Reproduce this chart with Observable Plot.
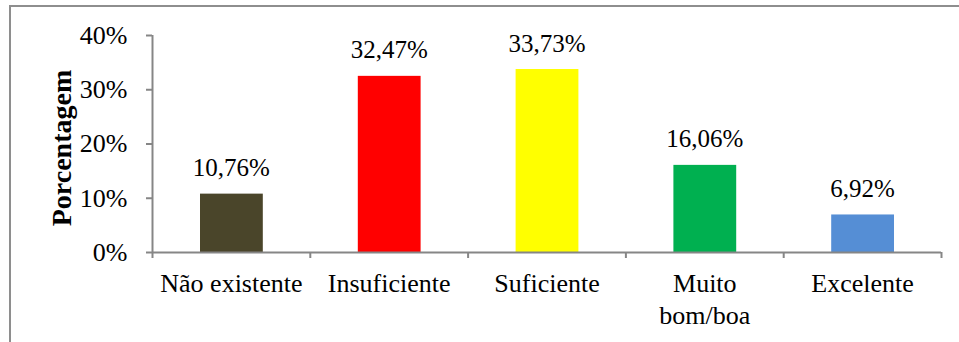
<!DOCTYPE html>
<html>
<head>
<meta charset="utf-8">
<script src="https://cdn.jsdelivr.net/npm/d3@7"></script>
<script src="https://cdn.jsdelivr.net/npm/@observablehq/plot@0.6"></script>
<style>
  html, body { margin: 0; padding: 0; background: #fff; overflow: hidden; }
  #wrap { position: relative; width: 959px; height: 342px; }
  #border { position: absolute; left: 9px; top: 5px; width: 1000px; height: 400px;
            border-left: 2px solid #8e8e8e; border-top: 2px solid #8e8e8e; box-sizing: border-box; }
  #chart { position: absolute; left: 0; top: 0; }
</style>
</head>
<body>
<div id="wrap"><div id="border"></div><div id="chart"></div></div>
<script>
const categories = ["Não existente", "Insuficiente", "Suficiente", "Muito\nbom/boa", "Excelente"];
const values = [10.76, 32.47, 33.73, 16.06, 6.92];
const colors = ["#4a452a", "#ff0000", "#ffff00", "#00b050", "#558ed5"];
const yTicks = [0, 10, 20, 30, 40];
const axisTitle = "Porcentagem";

const data = categories.map((c, i) => ({
  i, cat: c, value: values[i], color: colors[i],
  label: values[i].toFixed(2).replace(".", ",") + "%"
}));
const bounds = d3.range(categories.length + 1);

const font = "'Liberation Serif', 'Times New Roman', serif";
const gray = "#868686";

const chart = Plot.plot({
  width: 959,
  height: 342,
  marginLeft: 152,
  marginRight: 18,
  marginTop: 35,
  marginBottom: 90,
  style: { fontFamily: font, fontSize: "26px", color: "#000", background: "transparent" },
  x: { type: "linear", domain: [0, categories.length], axis: null },
  y: { domain: [0, 40], axis: null },
  marks: [
    Plot.rectY(data, { x1: "i", x2: d => d.i + 1, y: "value", fill: "color", insetLeft: 48, insetRight: 47 }),
    Plot.ruleX([0], { stroke: gray, strokeWidth: 2 }),
    Plot.axisY({ ticks: yTicks, tickFormat: d => d + "%", tickSize: 6, tickPadding: 19, stroke: gray, strokeWidth: 2, fontSize: 26, label: null, fill: "#000" }),
    Plot.ruleY([0], { stroke: gray, strokeWidth: 2 }),
    Plot.axisX({ ticks: bounds, tickFormat: () => "", tickSize: 6, stroke: gray, strokeWidth: 2, label: null }),
    Plot.text(data, { x: d => d.i + 0.5, y: 0, text: "cat", dy: 16, lineAnchor: "top", lineHeight: 1.25, fontSize: 26, fill: "#000" }),
    Plot.text(data, { x: d => d.i + 0.5, y: "value", text: "label", dy: -26, fontSize: 25, fill: "#000" }),
    Plot.text([axisTitle], { frameAnchor: "left", textAnchor: "middle", rotate: -90, dx: -90, dy: 4, fontSize: 28, fontWeight: "bold", fill: "#000" })
  ]
});
document.getElementById("chart").appendChild(chart);
</script>
</body>
</html>
